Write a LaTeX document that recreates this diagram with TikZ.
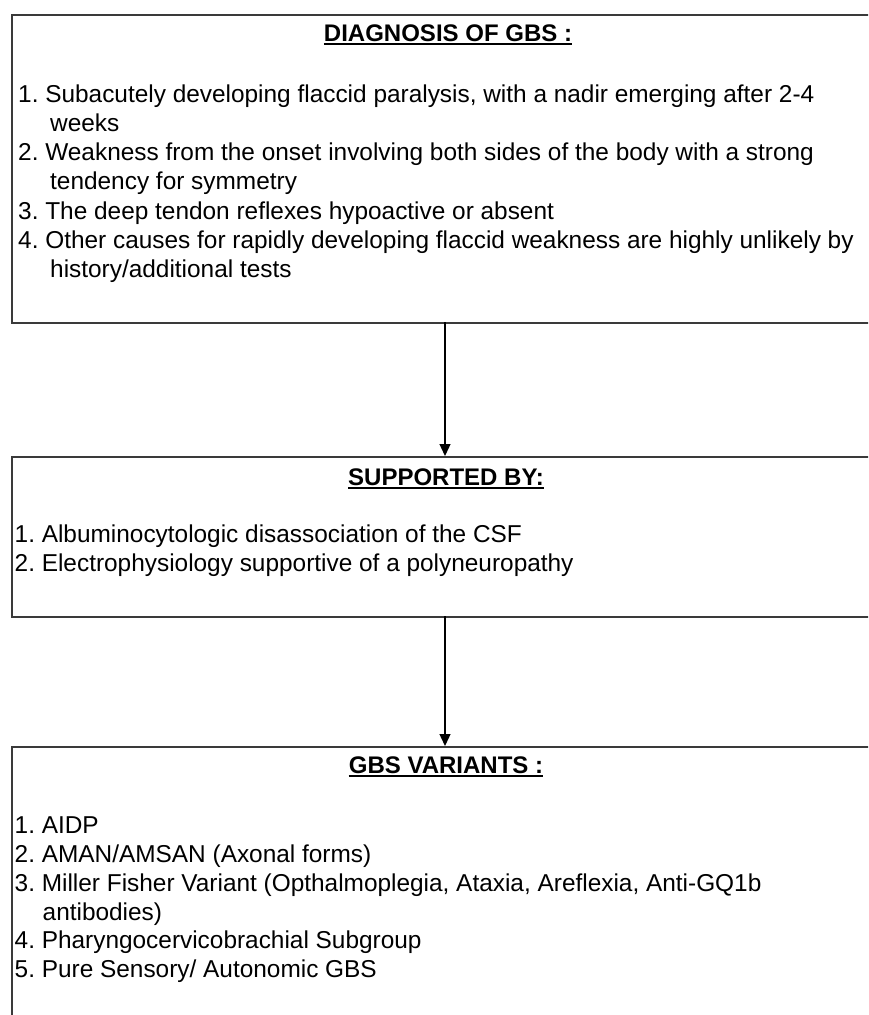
\documentclass[tikz,border=0pt]{standalone}
\usepackage{fontspec}
\setmainfont{Liberation Sans}
\usetikzlibrary{arrows.meta}
\frenchspacing
\definecolor{boxline}{HTML}{3A3A3A}
\tikzset{
  box/.style={draw=boxline, line width=2pt, anchor=north west, inner sep=0pt, fill=white},
  ttl/.style={anchor=base, inner sep=0pt, font=\fontsize{24}{29}\selectfont\bfseries},
  ln/.style={anchor=base west, inner sep=0pt, font=\fontsize{24.4}{29}\selectfont},
  uline/.style={line width=1.8pt, black},
  conn/.style={line width=1.3pt, black, -{Triangle[length=12pt,width=11pt]}}
}
\begin{document}
\begin{tikzpicture}[x=1pt,y=1pt]
\useasboundingbox (0,0) rectangle (868,-1015);
\clip (0,0) rectangle (868,-1015);
% boxes
\node[box, minimum width=880pt, minimum height=308pt] (b1) at (11,-14) {};
\node[box, minimum width=880pt, minimum height=160pt] (b2) at (11,-456) {};
\node[box, minimum width=880pt, minimum height=300pt] (b3) at (11,-746) {};
% box 1
\node[ttl] (t1) at (448,-41) {DIAGNOSIS OF GBS :};
\draw[uline] ([yshift=-3pt]t1.base west) -- ([yshift=-3pt]t1.base east);
\node[ln] (a1) at (18,-102) {1. Subacutely developing flaccid paralysis, with a nadir emerging after 2-4};
\node[ln] (a1b) at (50,-131.3) {weeks};
\node[ln] (a2) at (18,-160.6) {2. Weakness from the onset involving both sides of the body with a strong};
\node[ln] (a2b) at (50,-189.9) {tendency for symmetry};
\node[ln] (a3) at (18,-219.2) {3. The deep tendon reflexes hypoactive or absent};
\node[ln] (a4) at (18,-248.5) {4. Other causes for rapidly developing flaccid weakness are highly unlikely by};
\node[ln] (a4b) at (50,-277.8) {history/additional tests};
% box 2
\node[ttl] (t2) at (446,-485) {SUPPORTED BY:};
\draw[uline] ([yshift=-3pt]t2.base west) -- ([yshift=-3pt]t2.base east);
\node[ln] (s1) at (14.5,-542) {1. Albuminocytologic disassociation of the CSF};
\node[ln] (s2) at (14.5,-571.5) {2. Electrophysiology supportive of a polyneuropathy};
% box 3
\node[ttl] (t3) at (446,-773) {GBS VARIANTS :};
\draw[uline] ([yshift=-3pt]t3.base west) -- ([yshift=-3pt]t3.base east);
\node[ln] (v1) at (14.5,-833) {1. AIDP};
\node[ln] (v2) at (14.5,-862) {2. AMAN/AMSAN (Axonal forms)};
\node[ln] (v3) at (14.5,-891.5) {3. Miller Fisher Variant (Opthalmoplegia, Ataxia, Areflexia, Anti-GQ1b};
\node[ln] (v3b) at (42.5,-920) {antibodies)};
\node[ln] (v4) at (14.5,-948.5) {4. Pharyngocervicobrachial Subgroup};
\node[ln] (v5) at (14.5,-977.5) {5. Pure Sensory/ Autonomic GBS};
% connectors
\coordinate (c1) at (445,-322);
\coordinate (c2) at (445,-616);
\draw[conn] (c1) -- (c1 |- b2.north);
\draw[conn] (c2) -- (c2 |- b3.north);
\end{tikzpicture}
\end{document}
